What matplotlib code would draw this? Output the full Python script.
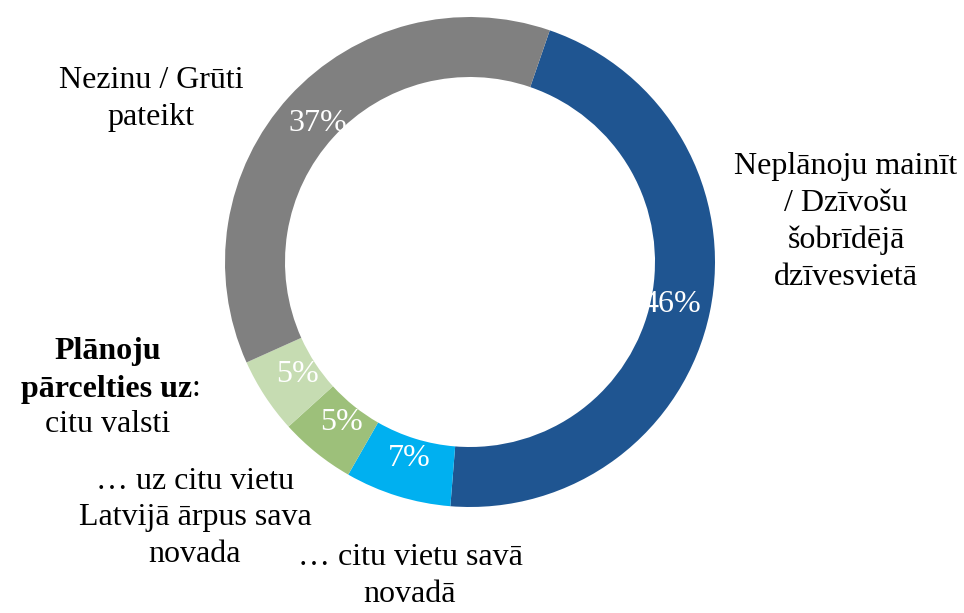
#!/usr/bin/env python
# -*- coding: utf-8 -*-

import matplotlib.pyplot as plt

# data (clockwise from the top right)
categories = ['Neplānoju mainīt / Dzīvošu šobrīdējā dzīvesvietā',
              '... citu vietu savā novadā',
              '... uz citu vietu Latvijā ārpus sava novada',
              'citu valsti',
              'Nezinu / Grūti pateikt']
shares = [46, 7, 5, 5, 37]
colors = ['#1F5591', '#00B0F0', '#9DC07A', '#C6DCB2', '#808080']

plt.rcParams['font.family'] = ['Liberation Serif', 'DejaVu Serif']
ftSize = 23

W, H = 964, 613
fig = plt.figure(figsize=(W / 100, H / 100), dpi=100)
ax = fig.add_axes([0, 0, 1, 1])

cx, cy, R = 470, H - 262, 245
wedges, texts, autotexts = ax.pie(
    shares, colors=colors, startangle=71, counterclock=False,
    center=(cx, cy), radius=R, frame=True,
    autopct='%d%%', pctdistance=0.84,
    wedgeprops=dict(width=60, edgecolor='none'),
    textprops=dict(color='white', fontsize=ftSize))
ax.set_xlim(0, W)
ax.set_ylim(0, H)
ax.axis('off')

ls = 1.36
ax.text(151, H - 99, 'Nezinu / Grūti\npateikt', ha='center', va='center',
        fontsize=ftSize, linespacing=ls)
ax.text(846, H - 222, 'Neplānoju mainīt\n/ Dzīvošu\nšobrīdējā\ndzīvesvietā',
        ha='center', va='center', fontsize=ftSize, linespacing=ls)
ax.text(108, H - 352, 'Plānoju', ha='center', va='center',
        fontsize=ftSize, fontweight='bold')
ax.text(192, H - 389, 'pārcelties uz', ha='right', va='center',
        fontsize=ftSize, fontweight='bold')
ax.text(192, H - 389, ':', ha='left', va='center', fontsize=ftSize)
ax.text(108, H - 425, 'citu valsti', ha='center', va='center', fontsize=ftSize)
ax.text(195, H - 518, '… uz citu vietu\nLatvijā ārpus sava\nnovada',
        ha='center', va='center', fontsize=ftSize, linespacing=ls)
ax.text(410, H - 576, '… citu vietu savā\nnovadā', ha='center', va='center',
        fontsize=ftSize, linespacing=ls)

plt.savefig('out.png', dpi=100)
